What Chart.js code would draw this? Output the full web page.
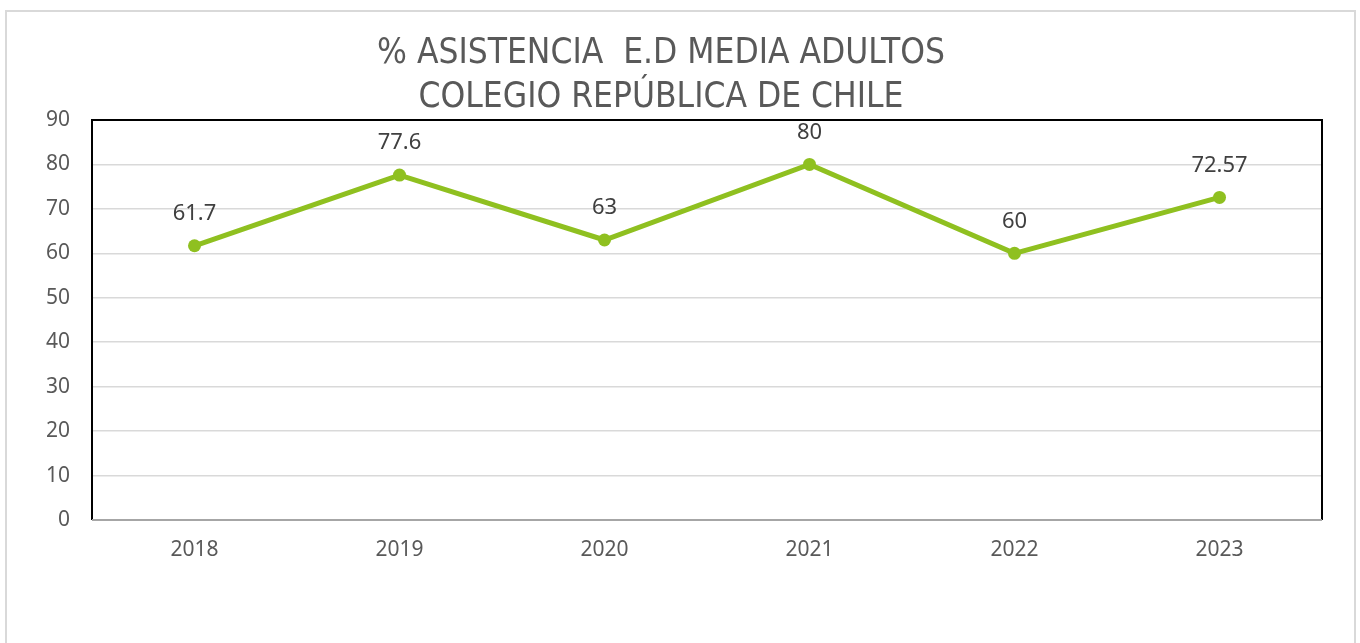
<!DOCTYPE html>
<html>
<head>
<meta charset="utf-8">
<script src="https://cdn.jsdelivr.net/npm/chart.js@4"></script>
<style>
  html, body { margin: 0; padding: 0; background: #fff; }
  #frame { position: absolute; left: 5px; top: 10px; width: 1351px; height: 640px; border: 2px solid #d9d9d9; box-sizing: border-box; }
  #wrap { position: absolute; left: 0; top: 0; width: 1360px; height: 643px; }
</style>
</head>
<body>
<div id="frame"></div>
<div id="wrap"><canvas id="grafico"></canvas></div>
<script>
// datos del gráfico
const anios = ['2018', '2019', '2020', '2021', '2022', '2023'];
const asistencia = [61.7, 77.6, 63, 80, 60, 72.57];
const tituloLineas = ['% ASISTENCIA  E.D MEDIA ADULTOS', 'COLEGIO REPÚBLICA DE CHILE'];

const verde = '#8fc020';

// borde negro del área del gráfico
const bordeArea = {
    id: 'bordeArea',
    beforeDatasetsDraw(chart) {
        const { ctx, chartArea: a } = chart;
        ctx.save();
        ctx.strokeStyle = '#000';
        ctx.lineWidth = 2;
        ctx.beginPath();
        ctx.moveTo(a.left, a.bottom);
        ctx.lineTo(a.left, a.top);
        ctx.lineTo(a.right, a.top);
        ctx.lineTo(a.right, a.bottom);
        ctx.stroke();
        ctx.strokeStyle = '#a6a6a6';
        ctx.beginPath();
        ctx.moveTo(a.left, a.bottom);
        ctx.lineTo(a.right, a.bottom);
        ctx.stroke();
        ctx.restore();
    }
};

// etiquetas de valores sobre los puntos
const etiquetas = {
    id: 'etiquetas',
    afterDatasetsDraw(chart) {
        const { ctx } = chart;
        const meta = chart.getDatasetMeta(0);
        ctx.save();
        ctx.font = '22px "Noto Sans"';
        ctx.fillStyle = '#404040';
        ctx.textAlign = 'center';
        ctx.textBaseline = 'middle';
        meta.data.forEach((p, i) => {
            ctx.fillText(String(asistencia[i]), p.x, p.y - 32);
        });
        ctx.restore();
    }
};

const ctx = document.getElementById('grafico').getContext('2d');
new Chart(ctx, {
    type: 'line',
    data: {
        labels: anios,
        datasets: [{
            data: asistencia,
            borderColor: verde,
            backgroundColor: verde,
            borderWidth: 5,
            pointRadius: 6.5,
            pointBackgroundColor: verde,
            pointBorderWidth: 0,
            tension: 0,
            fill: false
        }]
    },
    options: {
        responsive: true,
        maintainAspectRatio: false,
        animation: false,
        layout: { padding: { left: 0, right: 38, top: 0, bottom: 63 } },
        plugins: {
            legend: { display: false },
            tooltip: { enabled: false },
            title: {
                display: true,
                text: tituloLineas,
                color: '#595959',
                font: { family: '"DejaVu Sans Condensed", "DejaVu Sans"', size: 35, weight: 'normal', lineHeight: 1.257 },
                padding: { top: 32, bottom: 0 }
            }
        },
        scales: {
            x: {
                offset: true,
                grid: { display: false, drawTicks: false },
                border: { display: false },
                ticks: { color: '#595959', font: { family: '"Noto Sans"', size: 21 }, padding: 17 },
                afterFit(s) { s.height = 60; }
            },
            y: {
                min: 0,
                max: 90,
                grid: { color: '#d9d9d9', lineWidth: 1.5, drawTicks: false },
                border: { display: false },
                ticks: { stepSize: 10, color: '#595959', font: { family: '"Noto Sans"', size: 21 }, padding: 22 },
                afterFit(s) { s.width = 92; }
            }
        }
    },
    plugins: [bordeArea, etiquetas]
});
</script>
</body>
</html>
